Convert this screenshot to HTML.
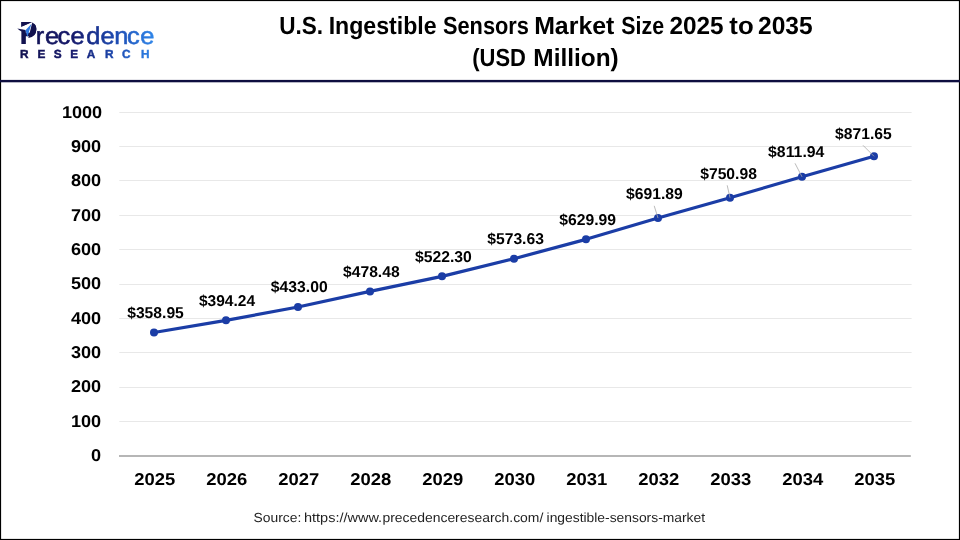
<!DOCTYPE html>
<html lang="en"><head><meta charset="utf-8">
<title>U.S. Ingestible Sensors Market Size 2025 to 2035 (USD Million)</title>
<style>
html,body{margin:0;padding:0;background:#fff;}
body{width:960px;height:540px;overflow:hidden;position:relative;font-family:"Liberation Sans",sans-serif;}
svg{position:absolute;left:0;top:0;display:block;}
text{font-family:"Liberation Sans",sans-serif;text-rendering:geometricPrecision;}
.b{font-weight:700;fill:#000;}
</style></head><body>
<svg width="960" height="540" viewBox="0 0 960 540">
<defs>
<linearGradient id="lg" gradientUnits="userSpaceOnUse" x1="17" y1="0" x2="154" y2="0">
<stop offset="0" stop-color="#12124f"/><stop offset="0.4" stop-color="#15186a"/><stop offset="0.72" stop-color="#1c49b0"/><stop offset="1" stop-color="#2f86ea"/>
</linearGradient>
<linearGradient id="lg2" gradientUnits="userSpaceOnUse" x1="16.0" y1="0" x2="145.3" y2="0">
<stop offset="0" stop-color="#12124f"/><stop offset="0.4" stop-color="#15186a"/><stop offset="0.72" stop-color="#1c49b0"/><stop offset="1" stop-color="#2f86ea"/>
</linearGradient>
</defs>
<rect x="0" y="0" width="960" height="540" fill="#fff"/>

<rect x="0.55" y="0.55" width="958.9" height="538.9" fill="none" stroke="#000" stroke-width="1.1"/>
<rect x="0" y="79.9" width="960" height="2.4" fill="#0e0e40"/>
<g id="logo">
<text transform="scale(1.06 1)" y="43.8" font-size="24.0"><tspan x="19.06" y="43.9" font-size="31.8" font-weight="700" fill="#12124f" textLength="16.01" lengthAdjust="spacingAndGlyphs">P</tspan><tspan x="33.78 42.47 54.17 66.62 81.45 94.83 107.84 119.83 132.38" y="43.8" fill="url(#lg2)" stroke="url(#lg2)" stroke-width="0.55">recedence</tspan></text>
<path d="M21.2 26.6 L31.9 22.2 L36 22 L36 23 L26 31 L21.2 29.6 Z" fill="#fff"/>
<path d="M21.15 21.95 L32.0 22.1 L21.15 26.9 Z" fill="#12124f"/>
<path d="M17.3 28.5 L25.6 30.1 L25.6 44 L21.4 44 L21.4 31.6 Q19.5 30.3 17.3 28.5 Z" fill="#12124f"/>
<path d="M32.3 22.5 Q36.4 24.6 36.4 29 Q36.3 37 28.3 38 Z" fill="#12124f"/>
<path d="M31.5 23.8 L25.5 30.2 L27.4 36.9 Z" fill="#2f78e0"/>
<text x="19.91 37.41 53.66 70.31 86.71 105.01 122.02 140.91" y="57.6" font-size="11.8" font-weight="700" fill="url(#lg)" stroke="url(#lg)" stroke-width="0.45">RESEARCH</text>
</g>
<g id="title">
<text y="33.80" font-size="24.8" font-weight="700" fill="#000"><tspan x="279.24" textLength="43.91" lengthAdjust="spacingAndGlyphs">U.S.</tspan> <tspan x="328.65" textLength="107.94" lengthAdjust="spacingAndGlyphs">Ingestible</tspan> <tspan x="442.97" textLength="85.92" lengthAdjust="spacingAndGlyphs">Sensors</tspan> <tspan x="534.13" textLength="80.27" lengthAdjust="spacingAndGlyphs">Market</tspan> <tspan x="621.28" textLength="42.75" lengthAdjust="spacingAndGlyphs">Size</tspan> <tspan x="669.45" textLength="54.22" lengthAdjust="spacingAndGlyphs">2025</tspan> <tspan x="729.39" textLength="24.32" lengthAdjust="spacingAndGlyphs">to</tspan> <tspan x="758.05" textLength="54.63" lengthAdjust="spacingAndGlyphs">2035</tspan></text>
<text y="65.80" font-size="24.8" font-weight="700" fill="#000"><tspan x="472.21" textLength="53.72" lengthAdjust="spacingAndGlyphs">(USD</tspan> <tspan x="533.37" textLength="85.35" lengthAdjust="spacingAndGlyphs">Million)</tspan></text>
</g>
<line x1="119.3" x2="911.6" y1="421.5" y2="421.5" stroke="#e8e8e8" stroke-width="1"/>
<line x1="119.3" x2="911.6" y1="387.5" y2="387.5" stroke="#e8e8e8" stroke-width="1"/>
<line x1="119.3" x2="911.6" y1="352.5" y2="352.5" stroke="#e8e8e8" stroke-width="1"/>
<line x1="119.3" x2="911.6" y1="318.5" y2="318.5" stroke="#e8e8e8" stroke-width="1"/>
<line x1="119.3" x2="911.6" y1="284.5" y2="284.5" stroke="#e8e8e8" stroke-width="1"/>
<line x1="119.3" x2="911.6" y1="249.5" y2="249.5" stroke="#e8e8e8" stroke-width="1"/>
<line x1="119.3" x2="911.6" y1="215.5" y2="215.5" stroke="#e8e8e8" stroke-width="1"/>
<line x1="119.3" x2="911.6" y1="180.5" y2="180.5" stroke="#e8e8e8" stroke-width="1"/>
<line x1="119.3" x2="911.6" y1="146.5" y2="146.5" stroke="#e8e8e8" stroke-width="1"/>
<line x1="119.3" x2="911.6" y1="112.5" y2="112.5" stroke="#e8e8e8" stroke-width="1"/>
<rect x="119" y="455" width="791.8" height="2" fill="#b6b6b6"/>
<text class="b" transform="translate(101.2 461.10) scale(1.06 1)" font-size="17.1" text-anchor="end">0</text>
<text class="b" transform="translate(101.2 426.74) scale(1.06 1)" font-size="17.1" text-anchor="end">100</text>
<text class="b" transform="translate(101.2 392.38) scale(1.06 1)" font-size="17.1" text-anchor="end">200</text>
<text class="b" transform="translate(101.2 358.02) scale(1.06 1)" font-size="17.1" text-anchor="end">300</text>
<text class="b" transform="translate(101.2 323.66) scale(1.06 1)" font-size="17.1" text-anchor="end">400</text>
<text class="b" transform="translate(101.2 289.30) scale(1.06 1)" font-size="17.1" text-anchor="end">500</text>
<text class="b" transform="translate(101.2 254.94) scale(1.06 1)" font-size="17.1" text-anchor="end">600</text>
<text class="b" transform="translate(101.2 220.58) scale(1.06 1)" font-size="17.1" text-anchor="end">700</text>
<text class="b" transform="translate(101.2 186.22) scale(1.06 1)" font-size="17.1" text-anchor="end">800</text>
<text class="b" transform="translate(101.2 151.86) scale(1.06 1)" font-size="17.1" text-anchor="end">900</text>
<text class="b" transform="translate(102.2 117.50) scale(1.06 1)" font-size="17.1" text-anchor="end">1000</text>
<text class="b" transform="translate(154.80 484.7) scale(1.078 1)" font-size="17.1" text-anchor="middle">2025</text>
<text class="b" transform="translate(226.80 484.7) scale(1.078 1)" font-size="17.1" text-anchor="middle">2026</text>
<text class="b" transform="translate(298.80 484.7) scale(1.078 1)" font-size="17.1" text-anchor="middle">2027</text>
<text class="b" transform="translate(370.80 484.7) scale(1.078 1)" font-size="17.1" text-anchor="middle">2028</text>
<text class="b" transform="translate(442.80 484.7) scale(1.078 1)" font-size="17.1" text-anchor="middle">2029</text>
<text class="b" transform="translate(514.80 484.7) scale(1.078 1)" font-size="17.1" text-anchor="middle">2030</text>
<text class="b" transform="translate(586.80 484.7) scale(1.078 1)" font-size="17.1" text-anchor="middle">2031</text>
<text class="b" transform="translate(658.80 484.7) scale(1.078 1)" font-size="17.1" text-anchor="middle">2032</text>
<text class="b" transform="translate(730.80 484.7) scale(1.078 1)" font-size="17.1" text-anchor="middle">2033</text>
<text class="b" transform="translate(802.80 484.7) scale(1.078 1)" font-size="17.1" text-anchor="middle">2034</text>
<text class="b" transform="translate(874.80 484.7) scale(1.078 1)" font-size="17.1" text-anchor="middle">2035</text>
<polyline points="154.00,332.46 226.00,320.34 298.00,307.02 370.00,291.39 442.00,276.34 514.00,258.70 586.00,239.34 658.00,218.07 730.00,197.76 802.00,176.82 874.00,156.30" fill="none" stroke="#1b3da6" stroke-width="3.2" stroke-linejoin="round" stroke-linecap="round"/>
<circle cx="154.00" cy="332.46" r="4" fill="#1b3da6"/>
<circle cx="226.00" cy="320.34" r="4" fill="#1b3da6"/>
<circle cx="298.00" cy="307.02" r="4" fill="#1b3da6"/>
<circle cx="370.00" cy="291.39" r="4" fill="#1b3da6"/>
<circle cx="442.00" cy="276.34" r="4" fill="#1b3da6"/>
<circle cx="514.00" cy="258.70" r="4" fill="#1b3da6"/>
<circle cx="586.00" cy="239.34" r="4" fill="#1b3da6"/>
<circle cx="658.00" cy="218.07" r="4" fill="#1b3da6"/>
<circle cx="730.00" cy="197.76" r="4" fill="#1b3da6"/>
<circle cx="802.00" cy="176.82" r="4" fill="#1b3da6"/>
<circle cx="874.00" cy="156.30" r="4" fill="#1b3da6"/>
<line x1="654.2" y1="205.8" x2="658.00" y2="218.07" stroke="#a9a9a9" stroke-width="0.8"/>
<line x1="727.2" y1="185.3" x2="730.00" y2="197.76" stroke="#a9a9a9" stroke-width="0.8"/>
<line x1="795" y1="163.3" x2="802.00" y2="176.82" stroke="#a9a9a9" stroke-width="0.8"/>
<line x1="863" y1="145.3" x2="874.00" y2="156.30" stroke="#a9a9a9" stroke-width="0.8"/>
<text y="318.10" font-size="15.6" font-weight="700" fill="#000"><tspan x="127.19" textLength="56.64" lengthAdjust="spacingAndGlyphs">$358.95</tspan></text>
<text y="306.00" font-size="15.6" font-weight="700" fill="#000"><tspan x="198.89" textLength="56.29" lengthAdjust="spacingAndGlyphs">$394.24</tspan></text>
<text y="291.90" font-size="15.6" font-weight="700" fill="#000"><tspan x="270.89" textLength="56.85" lengthAdjust="spacingAndGlyphs">$433.00</tspan></text>
<text y="276.90" font-size="15.6" font-weight="700" fill="#000"><tspan x="342.99" textLength="56.69" lengthAdjust="spacingAndGlyphs">$478.48</tspan></text>
<text y="261.90" font-size="15.6" font-weight="700" fill="#000"><tspan x="414.99" textLength="56.85" lengthAdjust="spacingAndGlyphs">$522.30</tspan></text>
<text y="243.50" font-size="15.6" font-weight="700" fill="#000"><tspan x="487.19" textLength="56.77" lengthAdjust="spacingAndGlyphs">$573.63</tspan></text>
<text y="224.90" font-size="15.6" font-weight="700" fill="#000"><tspan x="559.19" textLength="56.79" lengthAdjust="spacingAndGlyphs">$629.99</tspan></text>
<text y="198.50" font-size="15.6" font-weight="700" fill="#000"><tspan x="625.99" textLength="56.79" lengthAdjust="spacingAndGlyphs">$691.89</tspan></text>
<text y="178.50" font-size="15.6" font-weight="700" fill="#000"><tspan x="700.19" textLength="56.69" lengthAdjust="spacingAndGlyphs">$750.98</tspan></text>
<text y="156.90" font-size="15.6" font-weight="700" fill="#000"><tspan x="768.09" textLength="56.29" lengthAdjust="spacingAndGlyphs">$811.94</tspan></text>
<text y="138.90" font-size="15.6" font-weight="700" fill="#000"><tspan x="835.09" textLength="56.64" lengthAdjust="spacingAndGlyphs">$871.65</tspan></text>
<g id="source">
<text y="522.20" font-size="13.1" fill="#1f1f1f"><tspan x="253.57" textLength="47.69" lengthAdjust="spacingAndGlyphs">Source:</tspan> <tspan x="304.00" textLength="78.13" lengthAdjust="spacingAndGlyphs">https://www.</tspan><tspan x="382.40" textLength="160.90" lengthAdjust="spacingAndGlyphs">precedenceresearch.com/</tspan> <tspan x="546.57" textLength="158.53" lengthAdjust="spacingAndGlyphs">ingestible-sensors-market</tspan></text>
</g>
</svg></body></html>
